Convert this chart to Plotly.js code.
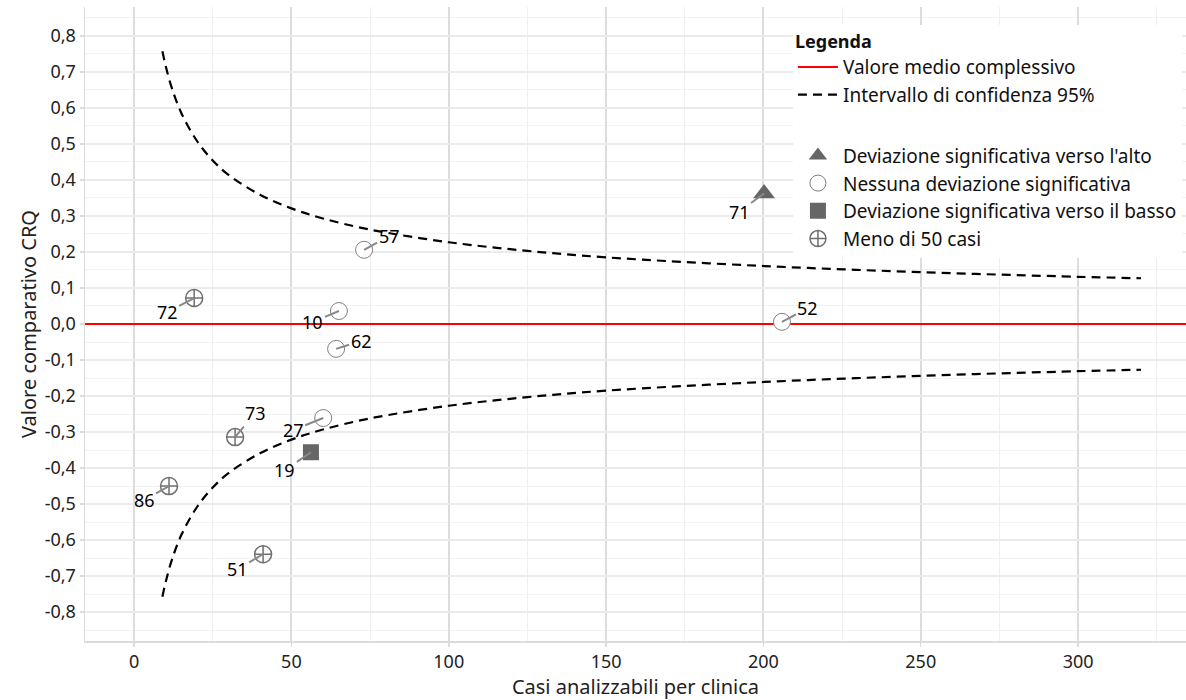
<!DOCTYPE html>
<html>
<head>
<meta charset="utf-8">
<script src="https://cdn.plot.ly/plotly-3.0.1.min.js"></script>
<style>html,body{margin:0;padding:0;background:#fff}#chart{width:1186px;height:700px}</style>
</head>
<body>
<div id="chart"></div>
<script>
// Clinic data
const clinicIds   = ["72", "57", "10", "62", "73", "27", "19", "86", "51", "71", "52"];
const clinicCases = [19.1, 73.1, 65.1, 64.2, 32.1, 60.1, 56.2, 11.1, 41.0, 200.2, 205.9];
const clinicCRQ   = [0.072, 0.206, 0.036, -0.069, -0.314, -0.261, -0.356, -0.450, -0.639, 0.362, 0.006];
const clinicClass = ["few", "none", "none", "none", "few", "none", "down", "few", "few", "up", "none"];

// 95% confidence interval
const ciCases = [9, 10, 12, 15, 20, 25, 30, 40, 50, 60, 75, 100, 125, 150, 200, 250, 300, 320];
const ciUpper = [0.757, 0.718, 0.655, 0.586, 0.508, 0.454, 0.414, 0.359, 0.321, 0.293, 0.262, 0.227, 0.203, 0.185, 0.161, 0.144, 0.131, 0.127];
const ciLower = [-0.757, -0.718, -0.655, -0.586, -0.508, -0.454, -0.414, -0.359, -0.321, -0.293, -0.262, -0.227, -0.203, -0.185, -0.161, -0.144, -0.131, -0.127];

const meanValue = 0;
const xRange = [-15.6, 334.3];
const yRange = [-0.88, 0.88];

// label offsets (pixels) for repelled labels
const labelDx = [-27, 25, -26, 25, 20, -30, -26, -25, -26, -25, 26];
const labelDy = [14, -14, 11, -8, -24, 12, 18, 14, 15, 18, -14];

const xTickVals = [0, 50, 100, 150, 200, 250, 300];
const xMinorVals = [25, 75, 125, 175, 225, 275, 325];
const yTickVals = [-0.8,-0.7,-0.6,-0.5,-0.4,-0.3,-0.2,-0.1,0,0.1,0.2,0.3,0.4,0.5,0.6,0.7,0.8];
const yTickText = ["-0,8","-0,7","-0,6","-0,5","-0,4","-0,3","-0,2","-0,1","0,0","0,1","0,2","0,3","0,4","0,5","0,6","0,7","0,8"];

const classes = [
  {key:"up",   name:"Deviazione significativa verso l'alto", symbol:"triangle-up", size:19, color:"#666666", fill:"#666666", lw:0},
  {key:"none", name:"Nessuna deviazione significativa", symbol:"circle", size:17, color:"#808080", fill:"#ffffff", lw:1},
  {key:"down", name:"Deviazione significativa verso il basso", symbol:"square", size:16, color:"#666666", fill:"#666666", lw:0},
  {key:"few",  name:"Meno di 50 casi", symbol:"circle-cross-open", size:17, color:"#707070", fill:"#707070", lw:1.5}
];

const traces = [];
traces.push({
  x: xRange, y: [meanValue, meanValue], mode: "lines", name: "Valore medio complessivo",
  line: {color: "#ff0000", width: 2}, legendgroup: "g1", hoverinfo: "skip"
});
traces.push({
  x: ciCases, y: ciUpper, mode: "lines", name: "Intervallo di confidenza 95%",
  line: {color: "#000000", width: 2.2, dash: "9px,6px", shape: "spline"}, legendgroup: "g1", hoverinfo: "skip"
});
traces.push({
  x: ciCases, y: ciLower, mode: "lines", name: "Intervallo di confidenza 95%", showlegend: false,
  line: {color: "#000000", width: 2.2, dash: "9px,6px", shape: "spline"}, legendgroup: "g1", hoverinfo: "skip"
});

classes.forEach(c => {
  const xs = [], ys = [];
  clinicClass.forEach((k, i) => { if (k === c.key) { xs.push(clinicCases[i]); ys.push(clinicCRQ[i]); } });
  traces.push({
    x: xs, y: ys, mode: "markers", name: c.name, legendgroup: "g2",
    marker: {symbol: c.symbol, size: c.size, color: c.fill, line: {color: c.color, width: c.lw}}
  });
});

const annotations = clinicIds.map((id, i) => ({
  x: clinicCases[i], y: clinicCRQ[i], xref: "x", yref: "y",
  text: id, showarrow: true, arrowhead: 0, arrowwidth: 2, arrowcolor: "#888888",
  ax: labelDx[i], ay: labelDy[i], standoff: 0, startstandoff: 0,
  font: {size: 18, color: "#000000", family: "Noto Sans"}
}));

const layout = {
  width: 1186, height: 700,
  margin: {l: 85, r: 0, t: 7, b: 59},
  paper_bgcolor: "#ffffff", plot_bgcolor: "#ffffff",
  font: {family: "Noto Sans", size: 18, color: "#222222"},
  separators: ",.",
  showlegend: true,
  xaxis: {
    range: xRange, tickvals: xTickVals,
    showgrid: true, gridcolor: "#dcdcdc", gridwidth: 2,
    minor: {tickvals: xMinorVals, showgrid: true, gridcolor: "#efefef", gridwidth: 1},
    zeroline: false, showline: true, linecolor: "#dcdcdc", linewidth: 1.5,
    ticks: "outside", ticklen: 4, tickcolor: "#dcdcdc", tickwidth: 1.5,
    tickfont: {size: 18, color: "#222222"},
    title: {text: "Casi analizzabili per clinica", font: {size: 20, color: "#222222"}, standoff: 4}
  },
  yaxis: {
    range: yRange, tickvals: yTickVals, ticktext: yTickText,
    showgrid: true, gridcolor: "#ebebeb", gridwidth: 1.5,
    minor: {dtick: 0.05, tick0: 0.05, showgrid: true, gridcolor: "#f3f3f3", gridwidth: 1},
    zeroline: false, showline: true, linecolor: "#dcdcdc", linewidth: 1.5,
    ticks: "outside", ticklen: 4, tickcolor: "#dcdcdc", tickwidth: 1.5,
    tickfont: {size: 18, color: "#222222"},
    title: {text: "Valore comparativo CRQ", font: {size: 20, color: "#222222"}, standoff: 2}
  },
  legend: {
    x: 0.643, y: 0.972, xanchor: "left", yanchor: "top",
    bgcolor: "#ffffff", borderwidth: 0,
    traceorder: "grouped", tracegroupgap: 33,
    title: {text: "<b>Legenda</b>", font: {size: 18, color: "#111111"}},
    font: {size: 19, color: "#111111"},
    itemwidth: 40
  },
  annotations: annotations
};

Plotly.newPlot("chart", traces, layout, {displayModeBar: false, staticPlot: true});
</script>
</body>
</html>
